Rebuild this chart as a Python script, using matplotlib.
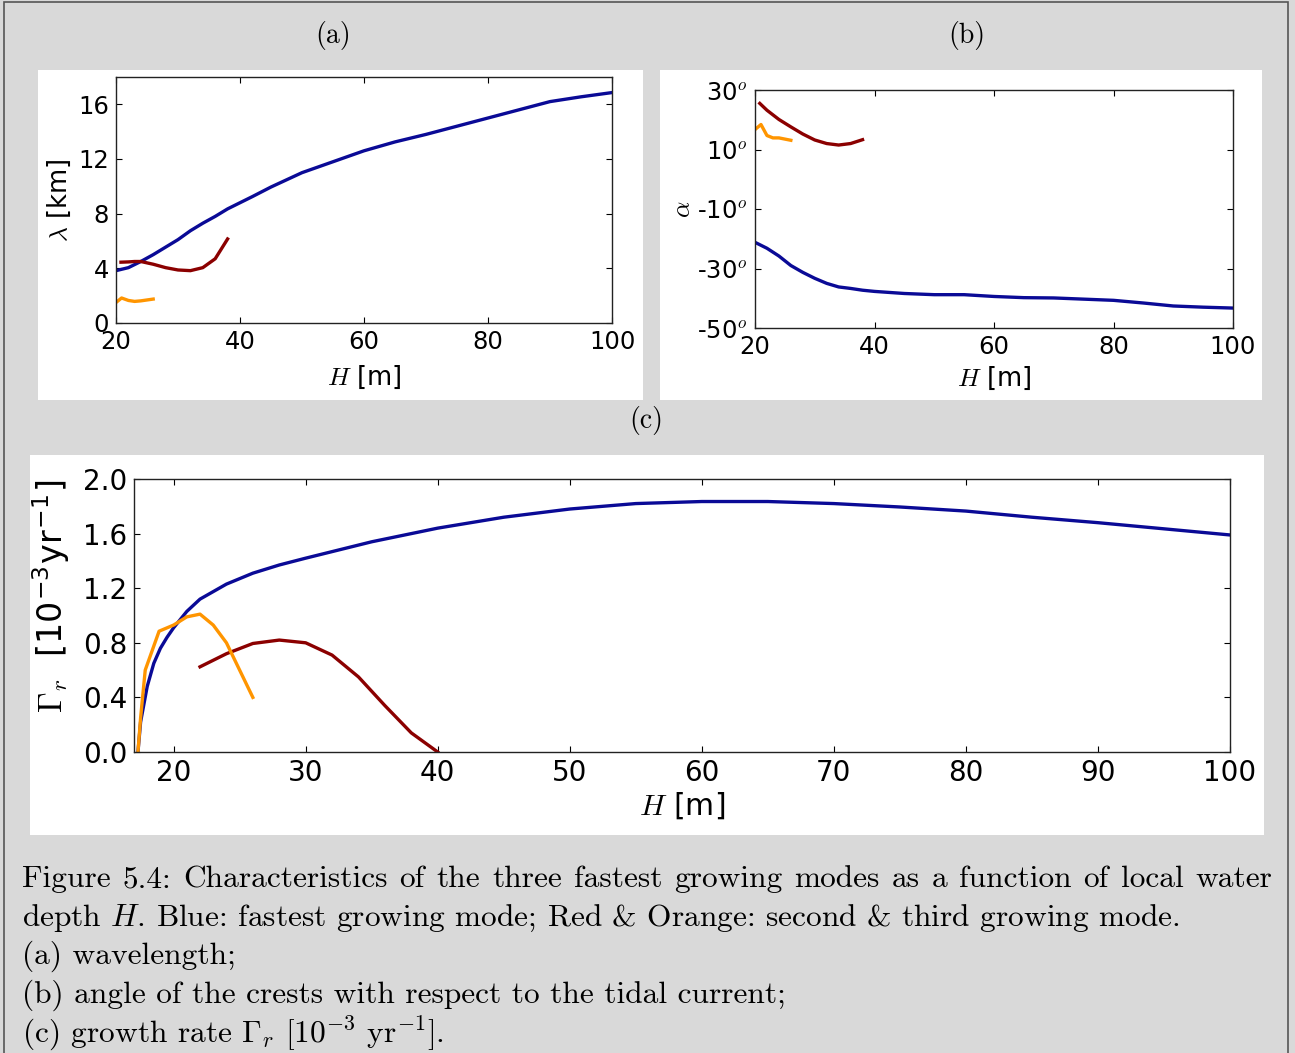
import matplotlib
matplotlib.use('Agg')
import matplotlib.pyplot as plt
from matplotlib.patches import Rectangle
from matplotlib.ticker import FormatStrFormatter

plt.rcParams['mathtext.fontset'] = 'cm'
plt.rcParams['font.family'] = 'DejaVu Sans'

# colours of the three modes
c_blue = '#0a0a96'
c_red = '#8b0000'
c_orange = '#ff9500'

# (a) wavelength [km]
H_a_blue = [20, 22, 24, 26, 28, 30, 32, 34, 36, 38, 40, 42, 45, 50, 55, 60, 65, 70, 75, 80, 85, 90, 95, 100]
lam_blue = [3.83, 4.05, 4.5, 5.0, 5.55, 6.1, 6.75, 7.3, 7.8, 8.35, 8.8, 9.25, 9.95, 11.0, 11.8, 12.6,
            13.25, 13.8, 14.4, 15.0, 15.6, 16.2, 16.55, 16.86]
H_a_red = [20.8, 22, 23, 24, 26, 28, 30, 32, 34, 36, 38]
lam_red = [4.45, 4.47, 4.5, 4.5, 4.3, 4.05, 3.88, 3.83, 4.05, 4.7, 6.15]
H_a_orange = [20, 20.9, 22, 23, 24, 26]
lam_orange = [1.5, 1.83, 1.65, 1.58, 1.62, 1.75]

# (b) crest angle [deg]
H_b_blue = [20, 22, 24, 26, 28, 30, 32, 34, 36, 38, 40, 45, 50, 55, 60, 65, 70, 75, 80, 85, 90, 95, 100]
alpha_blue = [-21.2, -23.2, -25.8, -29.0, -31.3, -33.3, -35.0, -36.2, -36.7, -37.3, -37.7, -38.4,
              -38.8, -38.8, -39.4, -39.8, -39.9, -40.3, -40.7, -41.6, -42.6, -43.0, -43.3]
H_b_red = [20.8, 22, 24, 26, 28, 30, 32, 34, 36, 38]
alpha_red = [25.5, 23.2, 20.1, 17.6, 15.2, 13.2, 12.0, 11.5, 12.0, 13.3]
H_b_orange = [20, 21, 22, 23, 24, 26]
alpha_orange = [16.7, 18.4, 14.7, 13.9, 13.9, 13.1]
alpha_ticks = [-50, -30, -10, 10, 30]
alpha_labels = ['-50$^o$', '-30$^o$', '-10$^o$', '10$^o$', '30$^o$']

# (c) growth rate [1e-3 / yr]
H_c_blue = [17.3, 17.5, 18, 18.5, 19, 19.5, 20, 21, 22, 24, 26, 28, 30, 35, 40, 45, 50, 55, 60, 65,
            70, 75, 80, 85, 90, 95, 100]
gam_blue = [0.0, 0.22, 0.48, 0.65, 0.76, 0.84, 0.91, 1.03, 1.12, 1.23, 1.31, 1.37, 1.42, 1.54, 1.64,
            1.72, 1.78, 1.82, 1.835, 1.835, 1.82, 1.795, 1.765, 1.72, 1.68, 1.635, 1.59]
H_c_red = [22, 24, 26, 28, 30, 32, 34, 36, 38, 40]
gam_red = [0.624, 0.72, 0.795, 0.82, 0.80, 0.71, 0.55, 0.34, 0.14, 0.0]
H_c_orange = [17.3, 17.5, 17.85, 18.9, 20, 21, 22, 23, 24, 25, 26]
gam_orange = [0.0, 0.25, 0.6, 0.885, 0.93, 0.99, 1.01, 0.93, 0.8, 0.6, 0.4]

caption = [
    'Figure 5.4:  Characteristics of the three fastest growing modes as a function of local water',
    'depth $H$. Blue: fastest growing mode; Red & Orange: second & third growing mode.',
    '(a) wavelength;',
    '(b) angle of the crests with respect to the tidal current;',
    '(c) growth rate $\\Gamma_r$ [10$^{-3}$ yr$^{-1}$].',
]

W, HP = 1295, 1053
fig = plt.figure(figsize=(W / 100, HP / 100), dpi=100)
fig.patch.set_facecolor('#d9d9d9')


def box(x0, y0, x1, y1):
    return [x0 / W, 1 - y1 / HP, (x1 - x0) / W, (y1 - y0) / HP]


def panel(x0, y0, x1, y1):
    fig.add_artist(Rectangle((x0 / W, 1 - y1 / HP), (x1 - x0) / W, (y1 - y0) / HP,
                             transform=fig.transFigure, fc='white', ec='none', zorder=-1))


# outer frame
fig.add_artist(Rectangle((4 / W, -0.01), 1284 / W, 1 - 2 / HP + 0.01, transform=fig.transFigure,
                         fill=False, ec='#555555', lw=1.2, zorder=-1))
panel(38, 70, 643, 400)
panel(660, 70, 1262, 400)
panel(30, 455, 1264, 835)

serif = dict(family='cmr10', fontsize=20)
fig.text(333 / W, 1 - 35 / HP, '(a)', ha='center', va='center', **serif)
fig.text(967 / W, 1 - 35 / HP, '(b)', ha='center', va='center', **serif)
fig.text(646 / W, 1 - 420 / HP, '(c)', ha='center', va='center', **serif)


def style(ax, fs):
    ax.tick_params(direction='in', top=True, right=True, length=4, width=0.8,
                   labelsize=fs, pad=5)
    for s in ax.spines.values():
        s.set_linewidth(1.0)
        s.set_color('#222222')


lw = 2.4

# (a)
ax = fig.add_axes(box(116, 77, 612, 323))
ax.plot(H_a_blue, lam_blue, color=c_blue, lw=lw)
ax.plot(H_a_red, lam_red, color=c_red, lw=lw)
ax.plot(H_a_orange, lam_orange, color=c_orange, lw=lw)
ax.set_xlim(20, 100)
ax.set_ylim(0, 18)
ax.set_xticks([20, 40, 60, 80, 100])
ax.set_yticks([0, 4, 8, 12, 16])
style(ax, 17.5)
ax.set_xlabel('$H$ [m]', fontsize=18.5, va='center')
ax.set_ylabel('$\\lambda$ [km]', fontsize=18.5, va='center')
ax.xaxis.set_label_coords(0.5, -0.22)
ax.yaxis.set_label_coords(-0.113, 0.5)

# (b)
ax = fig.add_axes(box(755, 90, 1233, 328))
ax.plot(H_b_blue, alpha_blue, color=c_blue, lw=lw)
ax.plot(H_b_red, alpha_red, color=c_red, lw=lw)
ax.plot(H_b_orange, alpha_orange, color=c_orange, lw=lw)
ax.set_xlim(20, 100)
ax.set_ylim(-50, 30)
ax.set_xticks([20, 40, 60, 80, 100])
ax.set_yticks(alpha_ticks)
ax.set_yticklabels(alpha_labels)
style(ax, 17.5)
ax.set_xlabel('$H$ [m]', fontsize=18.5, va='center')
ax.set_ylabel('$\\alpha$', fontsize=18.5, va='center')
ax.xaxis.set_label_coords(0.5, -0.21)
ax.yaxis.set_label_coords(-0.151, 0.5)

# (c)
ax = fig.add_axes(box(134, 479, 1230, 752))
ax.plot(H_c_blue, gam_blue, color=c_blue, lw=lw)
ax.plot(H_c_red, gam_red, color=c_red, lw=lw)
ax.plot(H_c_orange, gam_orange, color=c_orange, lw=lw)
ax.set_xlim(17, 100)
ax.set_ylim(0, 2)
ax.set_xticks(range(20, 101, 10))
ax.set_yticks([0, 0.4, 0.8, 1.2, 1.6, 2.0])
ax.yaxis.set_major_formatter(FormatStrFormatter('%.1f'))
style(ax, 20)
ax.set_xlabel('$H$ [m]', fontsize=21.5, va='center')
ax.set_ylabel('$\\Gamma_r$  [10$^{\\mathdefault{-3}}$yr$^{\\mathdefault{-1}}$]', fontsize=24, va='center')
ax.xaxis.set_label_coords(0.5, -0.198)
ax.yaxis.set_label_coords(-0.075, 0.57)

# caption, first line justified
cap_fs = 22.6
baselines = [887, 925.5, 964, 1002.5, 1041]
renderer = fig.canvas.get_renderer()
words = caption[0].split()
texts = [fig.text(0, 1 - baselines[0] / HP, w, family='cmr10', fontsize=cap_fs, va='baseline')
         for w in words]
widths = [t.get_window_extent(renderer).width for t in texts]
x0, x1 = 22, 1272
gap = (x1 - x0 - sum(widths)) / (len(words) - 1)
x = x0
for t, w in zip(texts, widths):
    t.set_x(x / W)
    x += w + gap
for line, b in zip(caption[1:], baselines[1:]):
    fig.text(22 / W, 1 - b / HP, line, family='cmr10', fontsize=cap_fs, va='baseline')

fig.savefig('out.png', dpi=100, facecolor=fig.get_facecolor())
